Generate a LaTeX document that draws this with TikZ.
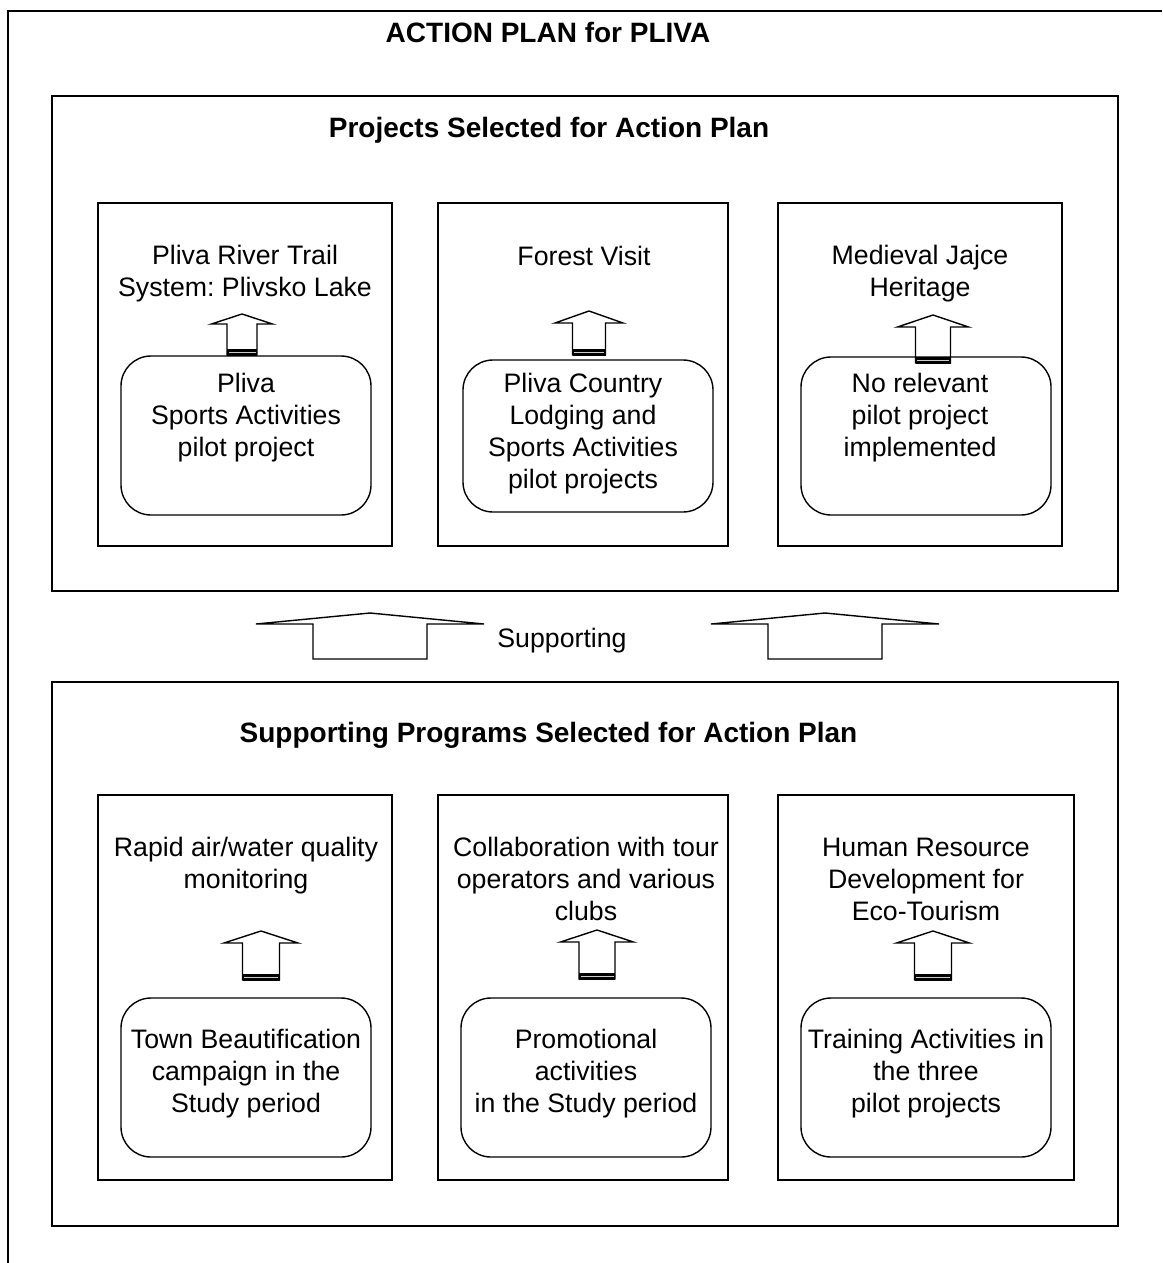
\documentclass[tikz,border=0pt]{standalone}
\usepackage{fontspec}
\setmainfont{Liberation Sans}
\frenchspacing

\tikzset{%
  plan box/.style={
    draw,
    line width=1.4pt,
    inner sep=0pt
  },
  pilot box/.style={
    draw,
    line width=1.4pt,
    rounded corners=30pt,
    inner sep=0pt
  },
  plan text/.style={
    align=center,
    inner sep=0pt,
    font=\fontsize{26.7}{32}\selectfont
  },
  plan title/.style={
    plan text,
    font=\fontsize{28}{32}\selectfont\bfseries
  },
  pics/blockarrow/.style n args={4}{code={
    \draw [line width=1.4pt, line join=miter]
      (-#2,0) -- (-#2,-#3+#4) -- (-#1,-#3+#4) -- (0,-#3)
      -- (#1,-#3+#4) -- (#2,-#3+#4) -- (#2,0) -- cycle;
  }},
  pics/liftarrow/.style n args={4}{code={
    \pic {blockarrow={#1}{#2}{#3}{#4}};
    \fill (-#2,1) rectangle (#2,-6);
    \draw [gray!40, line width=0.8pt] (-#2+1.5,-3) -- (#2-1.5,-3);
  }},
}

\begin{document}
\begin{tikzpicture}[x=1pt, y=-1pt]

\useasboundingbox (0,0) rectangle (1162,1263);

% Rahmen
\draw [line width=1.4pt] (8,1263) -- (8,11) -- (1162,11);
\node [plan title] (plan-title) at (548,32) {ACTION PLAN for PLIVA};


% Projekte
\node [plan box, minimum width=1066pt, minimum height=495pt] (projects) at (585,343.5) {};
\node [plan title] (projects-title) at (549,130) {Projects Selected for Action Plan};

\foreach \x/\w [count=\i] in {245/294, 583/290, 920/284}
  \node [plan box, minimum width=\w pt, minimum height=343pt] (project-\i) at (\x,374.5) {};

\foreach \x/\y/\h [count=\i] in {246/435.5/159, 588/436/152, 926/436/158}
  \node [pilot box, minimum width=250pt, minimum height=\h pt] (pilot-\i) at (\x,\y) {};

\node [plan text] (project-text-1) at (245,273.5) {Pliva River Trail\\System: Plivsko Lake};
\node [plan text] (project-text-2) at (584,255.5) {Forest Visit};
\node [plan text] (project-text-3) at (920,273.5) {Medieval Jajce\\Heritage};

\node [plan text] (pilot-text-1) at (246,417.5) {Pliva\\Sports Activities\\pilot project};
\node [plan text] (pilot-text-2) at (583,433.5) {Pliva Country\\Lodging and\\Sports Activities\\pilot projects};
\node [plan text] (pilot-text-3) at (920,417.5) {No relevant\\pilot project\\implemented};

\foreach \x/\y/\a/\b/\h/\t in {242/355/30.5/15/41/10, 589/355/34/16.5/44/12, 933/363/35.5/17.5/48/12}
  \pic at (\x,\y) {liftarrow={\a}{\b}{\h}{\t}};


% Unterstuetzung
\foreach \x in {370, 825}
  \pic at (\x,659) {blockarrow={114}{57}{46}{11}};
\node [plan text] (supporting) at (562,640.5) {Supporting};


% Programme
\node [plan box, minimum width=1066pt, minimum height=544pt] (programs) at (585,954) {};
\node [plan title] (programs-title) at (548.5,735) {Supporting Programs Selected for Action Plan};

\foreach \x/\w [count=\i] in {245/294, 583/290, 926/296}
  \node [plan box, minimum width=\w pt, minimum height=385pt] (program-\i) at (\x,987.5) {};

\foreach \x [count=\i] in {246, 586, 926}
  \node [pilot box, minimum width=250pt, minimum height=159pt] (activity-\i) at (\x,1077.5) {};

\node [plan text] (program-text-1) at (246,865.5) {Rapid air/water quality\\monitoring};
\node [plan text] (program-text-2) at (586,879) {Collaboration with tour\\operators and various\\clubs};
\node [plan text] (program-text-3) at (926,879.5) {Human Resource\\Development for\\Eco-Tourism};

\node [plan text] (activity-text-1) at (246,1073.5) {Town Beautification\\campaign in the\\Study period};
\node [plan text] (activity-text-2) at (586,1073.5) {Promotional\\activities\\in the Study period};
\node [plan text] (activity-text-3) at (926,1073.5) {Training Activities in\\the three\\pilot projects};

\foreach \x/\y/\a/\b in {261/980/37/18.5, 597/979/36.5/18, 933/980/36.5/18.5}
  \pic at (\x,\y) {liftarrow={\a}{\b}{49}{12}};

\end{tikzpicture}
\end{document}
